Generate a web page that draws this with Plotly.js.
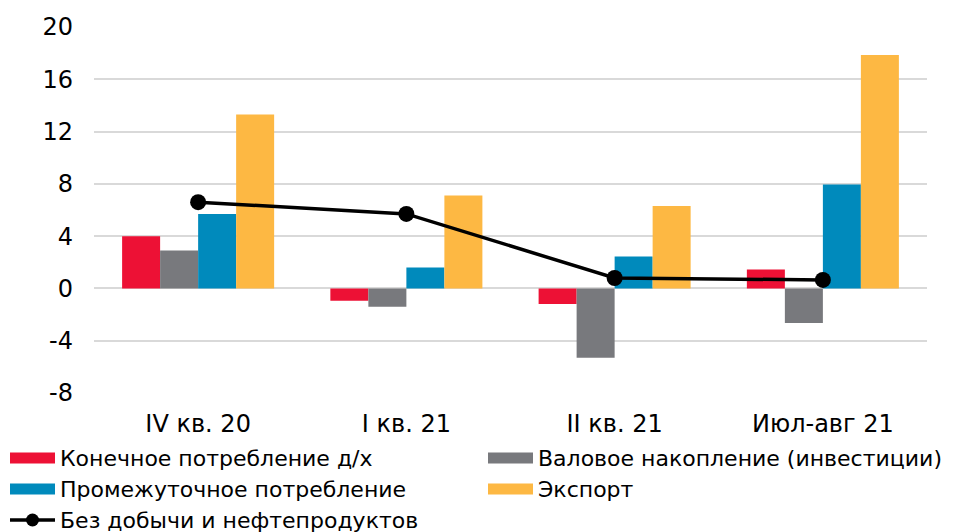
<!DOCTYPE html>
<html><head><meta charset="utf-8">
<script src="https://cdn.plot.ly/plotly-3.0.1.min.js"></script>
<style>body{margin:0;padding:0;background:#fff}#c{width:959px;height:532px}</style>
</head><body><div id="c"></div>
<script>
const categories = ["IV кв. 20", "I кв. 21", "II кв. 21", "Июл-авг 21"];
const finalConsumption = [4.0, -0.95, -1.2, 1.45];
const grossAccumulation = [2.9, -1.4, -5.3, -2.65];
const intermediateConsumption = [5.7, 1.6, 2.45, 7.95];
const exportValues = [13.3, 7.1, 6.3, 17.85];
const exMining = [6.6, 5.7, 0.8, 0.65];
const names = ["Конечное потребление д/х", "Валовое накопление (инвестиции)", "Промежуточное потребление", "Экспорт", "Без добычи и нефтепродуктов"];
const yTicks = [-8, -4, 0, 4, 8, 12, 16, 20];

const FONT = 'DejaVu Sans, Liberation Sans, Arial, sans-serif';
const colors = ['#ED1135', '#78797D', '#008ABC', '#FDB843'];
const series = [finalConsumption, grossAccumulation, intermediateConsumption, exportValues];
const traces = series.map((s, i) => ({
  type: 'bar', x: categories, y: s, name: names[i],
  marker: {color: colors[i], line: {width: 0}}
}));
traces.push({
  type: 'scatter', mode: 'lines+markers', x: categories, y: exMining, name: names[4],
  line: {color: '#000', width: 3.5}, marker: {color: '#000', size: 16}
});

// plot area in pixels
const W = 959, H = 532, L = 94, R = 32, T = 27, B = 139;
const pw = W - L - R, ph = H - T - B;
const px = x => (x - L) / pw;
const py = y => (H - B - y) / ph;

// custom legend (two columns, wide swatches like the original)
const legendItems = [
  {i: 0, col: 0, row: 0}, {i: 1, col: 1, row: 0},
  {i: 2, col: 0, row: 1}, {i: 3, col: 1, row: 1},
  {i: 4, col: 0, row: 2}
];
const colX = [10, 488], rowY = [458, 489, 520], swW = 45, swH = 11;
const shapes = [], annotations = [];
legendItems.forEach(it => {
  const x0 = colX[it.col], yc = rowY[it.row];
  if (it.i < 4) {
    shapes.push({type: 'rect', xref: 'paper', yref: 'paper',
      x0: px(x0), x1: px(x0 + swW), y0: py(yc + swH / 2), y1: py(yc - swH / 2),
      fillcolor: colors[it.i], line: {width: 0}});
  } else {
    shapes.push({type: 'line', xref: 'paper', yref: 'paper',
      x0: px(x0), x1: px(x0 + swW), y0: py(yc), y1: py(yc), line: {color: '#000', width: 3.5}});
    const r = 6.5, cx = x0 + swW / 2;
    shapes.push({type: 'circle', xref: 'paper', yref: 'paper',
      x0: px(cx - r), x1: px(cx + r), y0: py(yc + r), y1: py(yc - r),
      fillcolor: '#000', line: {width: 0}});
  }
  annotations.push({xref: 'paper', yref: 'paper', x: px(x0 + swW + 3), y: py(yc),
    xanchor: 'left', yanchor: 'middle', showarrow: false, text: names[it.i],
    font: {family: FONT, size: 22, color: '#000'}});
});

const layout = {
  width: W, height: H,
  margin: {l: L, r: R, t: T, b: B, autoexpand: false},
  paper_bgcolor: '#fff', plot_bgcolor: '#fff',
  barmode: 'group', bargap: 0.27, bargroupgap: 0,
  font: {family: FONT, size: 24, color: '#000'},
  showlegend: false,
  xaxis: {type: 'category', showgrid: false, zeroline: false, showline: false, ticks: '',
          tickfont: {family: FONT, size: 24, color: '#000'}, ticklabelstandoff: 14},
  yaxis: {range: [-8, 20], tickvals: yTicks, ticktext: yTicks.map(String),
          showgrid: true, gridcolor: '#D9D9D9', gridwidth: 2,
          zeroline: true, zerolinecolor: '#D9D9D9', zerolinewidth: 2,
          showline: false, ticks: '', tickfont: {family: FONT, size: 24, color: '#000'},
          ticklabelstandoff: 20},
  shapes: shapes, annotations: annotations
};
Plotly.newPlot('c', traces, layout, {displayModeBar: false, staticPlot: true});
</script></body></html>
